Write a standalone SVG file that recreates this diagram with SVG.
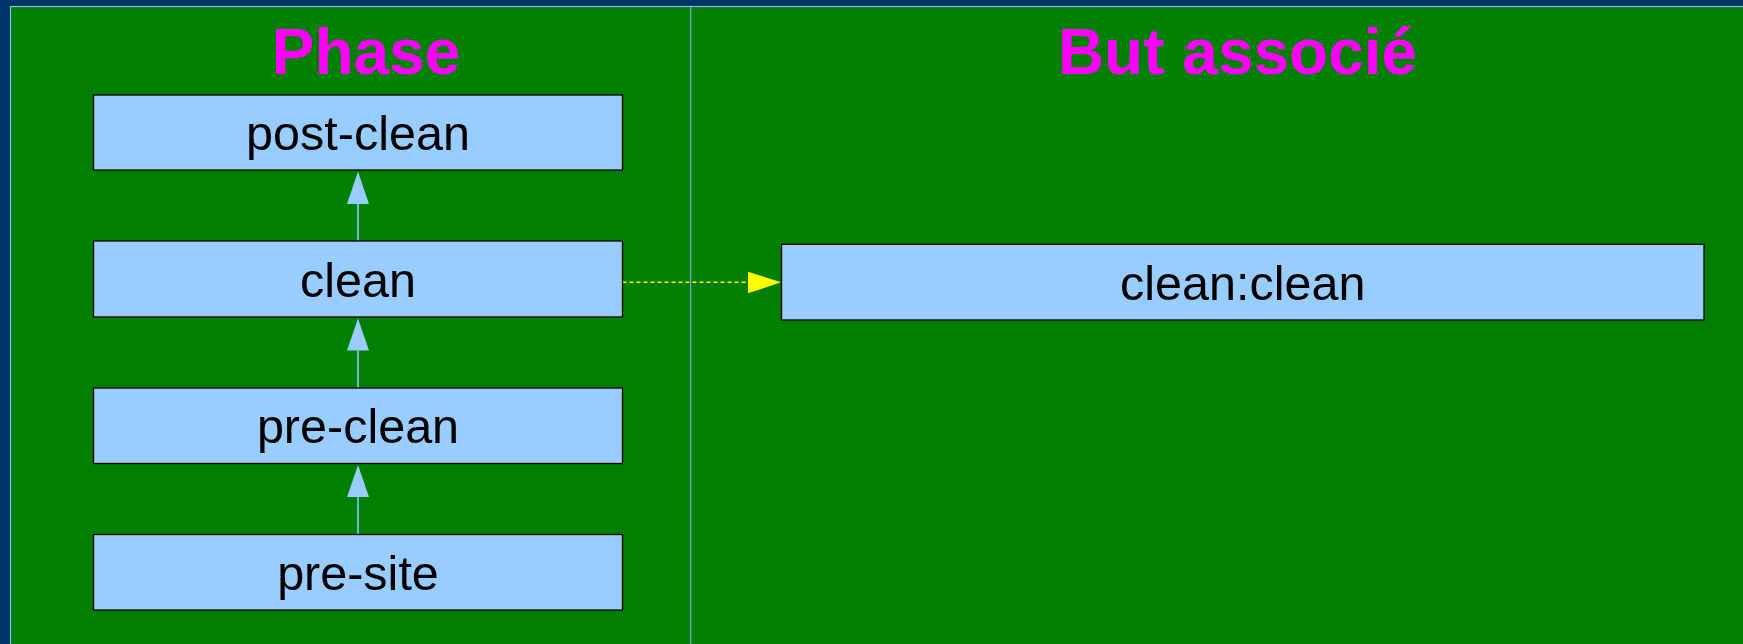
<svg xmlns="http://www.w3.org/2000/svg" width="1743" height="644" viewBox="0 0 1743 644">
<style>
.box{fill:#99ccff;stroke:#000;stroke-width:1.3}
.lbl{font-family:"Liberation Sans",Arial,sans-serif;font-size:48.5px;fill:#000;text-anchor:middle}
.title{font-family:"Liberation Sans",Arial,sans-serif;font-size:64px;font-weight:bold;fill:#ff00ff;text-anchor:middle}
.up{stroke:#99ccff;stroke-width:1.5;fill:none}
.head{fill:#99ccff}
</style>
<rect x="0" y="0" width="1743" height="644" fill="#003366"/>
<rect x="10.5" y="6.5" width="1740" height="645" fill="#007f00" stroke="#88bbee" stroke-width="1.2"/>
<line x1="690.7" y1="7" x2="690.7" y2="644" stroke="#77aadd" stroke-width="1.2"/>
<text class="title" x="366" y="73.5">Phase</text>
<text class="title" x="1237.5" y="74">But associé</text>
<g id="connectors">
  <line class="up" x1="358" y1="204" x2="358" y2="241"/>
  <polygon class="head" points="358,171.5 347,204 369,204"/>
  <line class="up" x1="358" y1="350.5" x2="358" y2="388"/>
  <polygon class="head" points="358,318.5 347,350.5 369,350.5"/>
  <line class="up" x1="358" y1="497" x2="358" y2="534.5"/>
  <polygon class="head" points="358,465 347,497 369,497"/>
  <line x1="622.5" y1="282.3" x2="748" y2="282.3" stroke="#ffff00" stroke-width="1.5" stroke-dasharray="4 3"/>
  <polygon points="748,271.7 781,282.3 748,293.3" fill="#ffff00"/>
</g>
<g id="post-clean">
  <rect class="box" x="93.5" y="95" width="529" height="75"/>
  <text class="lbl" x="358" y="150">post-clean</text>
</g>
<g id="clean">
  <rect class="box" x="93.5" y="241" width="529" height="76"/>
  <text class="lbl" x="358" y="296.5">clean</text>
</g>
<g id="pre-clean">
  <rect class="box" x="93.5" y="388" width="529" height="75.5"/>
  <text class="lbl" x="358" y="443.2">pre-clean</text>
</g>
<g id="pre-site">
  <rect class="box" x="93.5" y="534.5" width="529" height="75.5"/>
  <text class="lbl" x="358" y="589.7">pre-site</text>
</g>
<g id="clean-clean">
  <rect class="box" x="781.5" y="244.3" width="922.5" height="75.7"/>
  <text class="lbl" x="1242.7" y="299.7">clean:clean</text>
</g>
</svg>
